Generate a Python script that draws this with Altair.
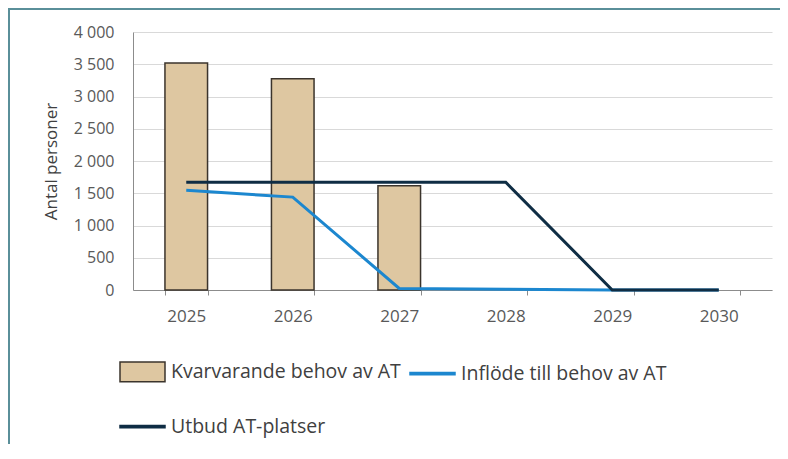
import altair as alt
import pandas as pd

# ---- data ----
years = ["2025", "2026", "2027", "2028", "2029", "2030"]
bar_years = ["2025", "2026", "2027"]
kvarvarande = [3520, 3275, 1615]
inflode = [1545, 1440, 25, 12, 0, 0]
utbud = [1670, 1670, 1670, 1670, 0, 0]

# legend entries (column-major order so that row 1 = Kvarvarande, Inflöde; row 2 = Utbud)
series = ["Kvarvarande behov av AT", "Utbud AT-platser", "Inflöde till behov av AT"]

# ---- styling ----
TAN = "#dec7a1"
BAR_EDGE = "#3b342c"
BLUE = "#1c87cf"
NAVY = "#0f2d44"
FRAME = "#5a8f99"
fills = [TAN, NAVY, BLUE]
strokes = [BAR_EDGE, NAVY, BLUE]
shapes = ["M-1,-0.44H1V0.44H-1Z", "M-1,-0.05H1V0.05H-1Z", "M-1,-0.05H1V0.05H-1Z"]

bar_df = pd.DataFrame({"year": bar_years, "value": kvarvarande})
inf_df = pd.DataFrame({"year": years, "value": inflode})
utb_df = pd.DataFrame({"year": years, "value": utbud})
leg_df = pd.DataFrame({"series": series})

x_enc = alt.X(
    "year:N",
    scale=alt.Scale(domain=years, paddingInner=0.6, paddingOuter=0.3),
    axis=alt.Axis(
        title=None, labelAngle=0, tickBand="extent", grid=False,
        domainColor="#8c8c8c", tickColor="#8c8c8c", tickSize=5,
        labelPadding=13, labelFontSize=17, labelColor="#595959",
    ),
)
y_enc = alt.Y(
    "value:Q",
    scale=alt.Scale(domain=[0, 4000], nice=False),
    axis=alt.Axis(
        values=list(range(0, 4001, 500)),
        title="Antal personer",
        labelExpr="replace(format(datum.value, ','), ',', ' ')",
        ticks=False, labelPadding=19,
        gridColor="#d9d9d9", domainColor="#8c8c8c",
        titlePadding=13, titleFontSize=17, titleFontWeight="normal",
        titleColor="#404040", labelFontSize=16, labelColor="#595959",
    ),
)

bars = alt.Chart(bar_df).mark_bar(fill=TAN, stroke=BAR_EDGE, strokeWidth=1.5).encode(x=x_enc, y=y_enc)
line_inf = alt.Chart(inf_df).mark_line(color=BLUE, strokeWidth=3).encode(x=x_enc, y=y_enc)
line_utb = alt.Chart(utb_df).mark_line(color=NAVY, strokeWidth=3).encode(x=x_enc, y=y_enc)

leg = alt.Legend(
    title=None, orient="none", legendX=-14, legendY=316, columns=2,
    symbolSize=2025, symbolStrokeWidth=1.5, labelLimit=500,
    labelFontSize=19.5, labelColor="#404040", labelFont="Open Sans",
    labelOffset=5, columnPadding=6, rowPadding=18, padding=0,
)
legend_layer = (
    alt.Chart(leg_df)
    .transform_filter("false")
    .mark_point(opacity=1)
    .encode(
        fill=alt.Fill("series:N", sort=series, scale=alt.Scale(domain=series, range=fills), legend=leg),
        stroke=alt.Stroke("series:N", sort=series, scale=alt.Scale(domain=series, range=strokes), legend=leg),
        shape=alt.Shape("series:N", sort=series, scale=alt.Scale(domain=series, range=shapes), legend=leg),
    )
)

frame_df = pd.DataFrame({"k": [0]})
frame_left = alt.Chart(frame_df).mark_rule(color=FRAME, strokeWidth=2).encode(
    x=alt.value(-124), y=alt.value(-24), y2=alt.value(430)
)
frame_top = alt.Chart(frame_df).mark_rule(color=FRAME, strokeWidth=2).encode(
    x=alt.value(-125), x2=alt.value(647), y=alt.value(-23)
)

chart = (
    alt.layer(bars, line_inf, line_utb, legend_layer, frame_left, frame_top)
    .properties(
        width=639, height=258,
        autosize=alt.AutoSizeParams(type="none"),
        padding={"left": 125, "top": 24, "right": 8, "bottom": 154},
    )
    .configure(font="Open Sans")
    .configure_view(stroke=None)
)

chart.save("out.html", embed_options={"renderer": "svg", "actions": False})
